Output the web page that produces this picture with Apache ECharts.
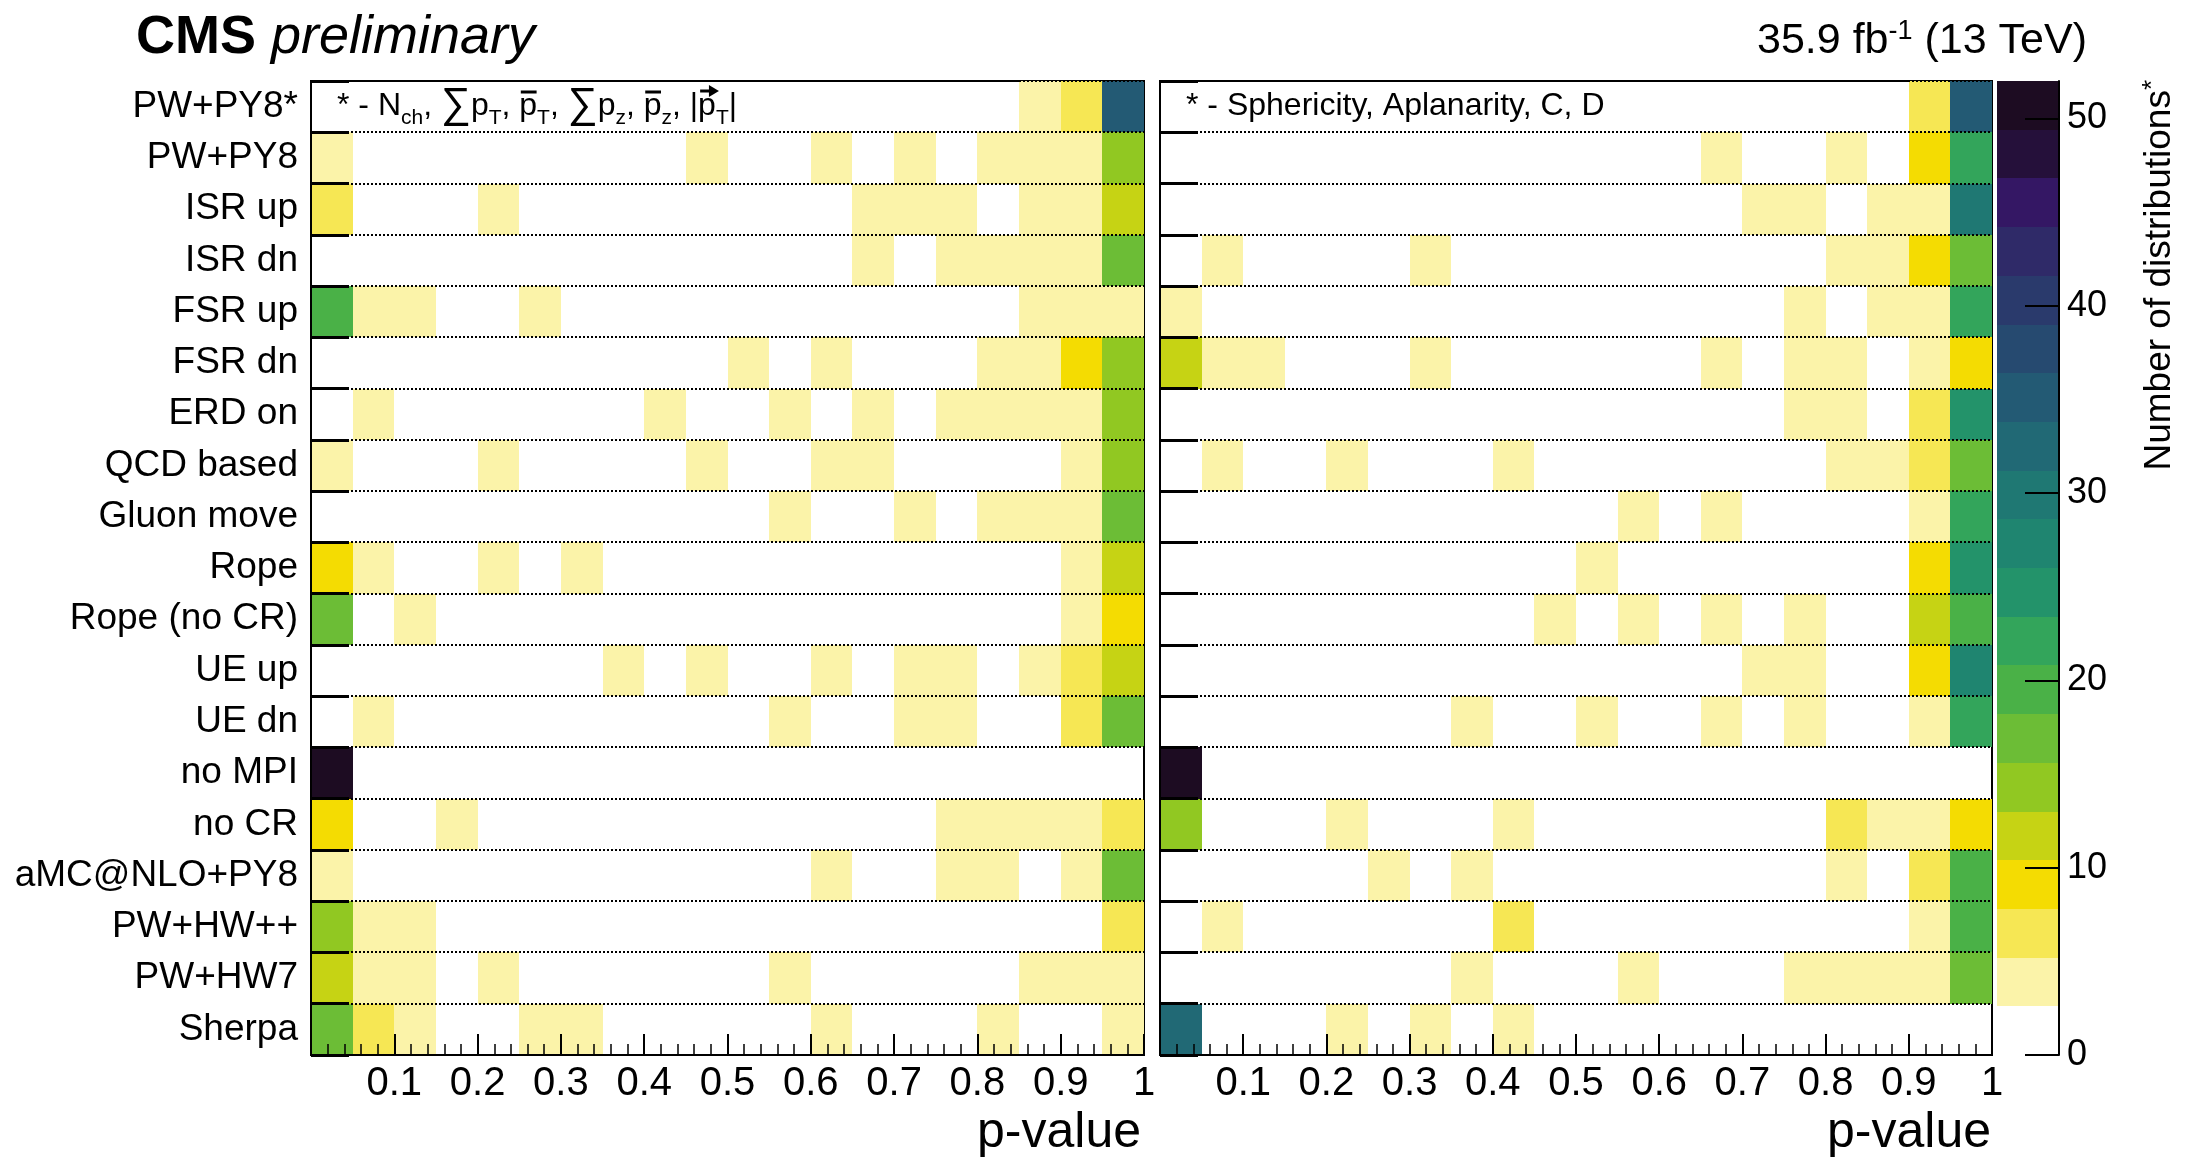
<!DOCTYPE html>
<html>
<head>
<meta charset="utf-8">
<script src="https://cdn.jsdelivr.net/npm/echarts@6/dist/echarts.min.js"></script>
<style>
  html, body { margin: 0; padding: 0; background: #fff; }
  #chart { width: 2193px; height: 1161px; }
</style>
</head>
<body>
<div id="chart"></div>
<script>
// Generator / tune labels, top row first
const models = [
  'PW+PY8*', 'PW+PY8', 'ISR up', 'ISR dn', 'FSR up', 'FSR dn', 'ERD on',
  'QCD based', 'Gluon move', 'Rope', 'Rope (no CR)', 'UE up', 'UE dn',
  'no MPI', 'no CR', 'aMC@NLO+PY8', 'PW+HW++', 'PW+HW7', 'Sherpa'
];

// Lower edges of the 20 p-value bins
const binLow = [0, 0.05, 0.1, 0.15, 0.2, 0.25, 0.3, 0.35, 0.4, 0.45,
                0.5, 0.55, 0.6, 0.65, 0.7, 0.75, 0.8, 0.85, 0.9, 0.95];
const binWidth = 0.05;

// Number of distributions per p-value bin: N_ch, sum pT, mean pT, sum pz, mean pz, |pT|
const leftCounts = [
  [0,0,0,0,0,0,0,0,0,0,0,0,0,0,0,0,0,4,6,35],
  [4,0,0,0,0,0,0,0,0,4,0,0,4,0,4,0,4,4,4,14],
  [6,0,0,0,4,0,0,0,0,0,0,0,0,4,4,4,0,4,4,12],
  [0,0,0,0,0,0,0,0,0,0,0,0,0,4,0,4,4,4,4,17],
  [19,4,4,0,0,4,0,0,0,0,0,0,0,0,0,0,0,4,4,4],
  [0,0,0,0,0,0,0,0,0,0,4,0,4,0,0,0,4,4,9,14],
  [0,4,0,0,0,0,0,0,4,0,0,4,0,4,0,4,4,4,4,14],
  [4,0,0,0,4,0,0,0,0,4,0,0,4,4,0,0,0,0,4,14],
  [0,0,0,0,0,0,0,0,0,0,0,4,0,0,4,0,4,4,4,17],
  [9,4,0,0,4,0,4,0,0,0,0,0,0,0,0,0,0,0,4,12],
  [17,0,4,0,0,0,0,0,0,0,0,0,0,0,0,0,0,0,4,9],
  [0,0,0,0,0,0,0,4,0,4,0,0,4,0,4,4,0,4,6,12],
  [0,4,0,0,0,0,0,0,0,0,0,4,0,0,4,4,0,0,6,17],
  [51,0,0,0,0,0,0,0,0,0,0,0,0,0,0,0,0,0,0,0],
  [9,0,0,4,0,0,0,0,0,0,0,0,0,0,0,4,4,4,4,6],
  [4,0,0,0,0,0,0,0,0,0,0,0,4,0,0,4,4,0,4,17],
  [14,4,4,0,0,0,0,0,0,0,0,0,0,0,0,0,0,0,0,6],
  [12,4,4,0,4,0,0,0,0,0,0,4,0,0,0,0,0,4,4,4],
  [17,6,4,0,0,4,4,0,0,0,0,0,4,0,0,0,4,0,0,4]
];

// Number of distributions per p-value bin: sphericity, aplanarity, C, D
const rightCounts = [
  [0,0,0,0,0,0,0,0,0,0,0,0,0,0,0,0,0,0,6,35],
  [0,0,0,0,0,0,0,0,0,0,0,0,0,4,0,0,4,0,9,22],
  [0,0,0,0,0,0,0,0,0,0,0,0,0,0,4,4,0,4,4,30],
  [0,4,0,0,0,0,4,0,0,0,0,0,0,0,0,0,4,4,9,17],
  [4,0,0,0,0,0,0,0,0,0,0,0,0,0,0,4,0,4,4,22],
  [12,4,4,0,0,0,4,0,0,0,0,0,0,4,0,4,4,0,4,9],
  [0,0,0,0,0,0,0,0,0,0,0,0,0,0,0,4,4,0,6,25],
  [0,4,0,0,4,0,0,0,4,0,0,0,0,0,0,0,4,4,6,17],
  [0,0,0,0,0,0,0,0,0,0,0,4,0,4,0,0,0,0,4,22],
  [0,0,0,0,0,0,0,0,0,0,4,0,0,0,0,0,0,0,9,25],
  [0,0,0,0,0,0,0,0,0,4,0,4,0,4,0,4,0,0,12,19],
  [0,0,0,0,0,0,0,0,0,0,0,0,0,0,4,4,0,0,9,28],
  [0,0,0,0,0,0,0,4,0,0,4,0,0,4,0,4,0,0,4,22],
  [51,0,0,0,0,0,0,0,0,0,0,0,0,0,0,0,0,0,0,0],
  [14,0,0,0,4,0,0,0,4,0,0,0,0,0,0,0,6,4,4,9],
  [0,0,0,0,0,4,0,4,0,0,0,0,0,0,0,0,4,0,6,19],
  [0,4,0,0,0,0,0,0,6,0,0,0,0,0,0,0,0,0,4,19],
  [0,0,0,0,0,0,0,4,0,0,0,4,0,0,0,4,4,4,4,17],
  [32,0,0,0,4,0,4,0,4,0,0,0,0,0,0,0,0,0,0,0]
];

// Colour contour edges (20 levels) and the palette for each level
const levels = [0, 2.6, 5.2, 7.8, 10.4, 13, 15.6, 18.2, 20.8, 23.4, 26,
                28.6, 31.2, 33.8, 36.4, 39, 41.6, 44.2, 46.8, 49.4, 52];
const levelColors = [
  '#ffffff', '#fbf3a9', '#f6e754', '#f4dc02', '#c6d314',
  '#91c822', '#6cbd36', '#4ab147', '#33a55b', '#23936a',
  '#1f8570', '#1f7873', '#216975', '#235a74', '#264a70',
  '#2a3a6c', '#2f2a68', '#341764', '#25103a', '#1d0c22'
];
const zTicks = [0, 10, 20, 30, 40, 50];
const xTickStep = 0.1;

const FONT = "'Liberation Sans', Arial, Helvetica, sans-serif";
const MIDDLE_SHIFT = 0.3465;   // baseline offset below the 'middle' anchor, in em

function cellData(counts) {
  const out = [];
  counts.forEach((row, r) => row.forEach((v, b) => {
    if (v > 0) out.push([binLow[b], r, v]);
  }));
  return out;
}

function levelColor(v) {
  for (let i = levels.length - 2; i >= 0; i--) {
    if (v >= levels[i]) return levelColors[i];
  }
  return levelColors[0];
}

function renderCell(params, api) {
  const lo = api.value(0), row = api.value(1), v = api.value(2);
  const c = api.coord([lo, row]);
  const s = api.size([binWidth, 1]);
  const x0 = Math.round(c[0]), x1 = Math.round(c[0] + s[0]);
  const y0 = Math.round(c[1] - s[1] / 2), y1 = Math.round(c[1] + s[1] / 2);
  return {
    type: 'rect',
    shape: { x: x0, y: y0, width: x1 - x0, height: y1 - y0 },
    style: { fill: levelColor(v) }
  };
}

function renderRowLine(params, api) {
  const row = api.value(1);
  const a = api.coord([0, row]), b = api.coord([1, row]);
  const h = api.size([0, 1])[1];
  const y = Math.round(a[1] - h / 2);
  return {
    type: 'line',
    shape: { x1: a[0], y1: y, x2: b[0], y2: y },
    style: { stroke: '#000', lineWidth: 2, lineDash: [2, 2] }
  };
}

function renderBand(params, api) {
  const lo = api.value(0), hi = api.value(1);
  const p1 = api.coord([0, hi]), p2 = api.coord([1, lo]);
  const y0 = Math.round(p1[1]), y1 = Math.round(p2[1]);
  return {
    type: 'rect',
    shape: { x: p1[0], y: y0, width: p2[0] - p1[0], height: y1 - y0 },
    style: { fill: levelColors[params.dataIndex] }
  };
}

const rowLineData = models.map((m, i) => [0, i]);
const bandData = levelColors.map((c, i) => [levels[i], levels[i + 1]]);

// Inline formula text (sub-scripts, over-bars, vector arrow) laid out piece by piece
const measureCtx = document.createElement('canvas').getContext('2d');
function formulaText(x0, baseline, pieces) {
  const els = [];
  let x = x0;
  pieces.forEach(p => {
    const fs = p.size;
    measureCtx.font = fs + "px 'Liberation Sans'";
    const w = measureCtx.measureText(p.text).width;
    const base = baseline + (p.dy || 0);
    els.push({
      type: 'text', x: x, y: base - MIDDLE_SHIFT * fs, silent: true, z: 10,
      style: { text: p.text, fontFamily: FONT, fontSize: fs, fill: '#000', align: 'left', verticalAlign: 'middle' }
    });
    if (p.mark === 'bar') {
      const yb = Math.round(base - 0.78 * fs);
      els.push({
        type: 'line', silent: true, z: 10,
        shape: { x1: x + 1.5, y1: yb, x2: x + w - 0.5, y2: yb },
        style: { stroke: '#000', lineWidth: 3 }
      });
    }
    if (p.mark === 'arrow') {
      const ya = Math.round(base - 0.82 * fs);
      const xl = x + 2, xr = x + w + 2;
      els.push({
        type: 'line', silent: true, z: 10,
        shape: { x1: xl, y1: ya, x2: xr - 6, y2: ya },
        style: { stroke: '#000', lineWidth: 3 }
      });
      els.push({
        type: 'polygon', silent: true, z: 10,
        shape: { points: [[xr - 9, ya - 6], [xr + 1, ya], [xr - 9, ya + 6]] },
        style: { fill: '#000' }
      });
    }
    x += w;
  });
  return els;
}

const M = 32, S = 21, SUB = 8, G = 42;
const leftNote = formulaText(337, 117, [
  { text: '* - N', size: M },
  { text: 'ch', size: S, dy: SUB },
  { text: ', ', size: M },
  { text: '\u2211', size: G, dy: 3 },
  { text: 'p', size: M },
  { text: 'T', size: S, dy: SUB },
  { text: ', ', size: M },
  { text: 'p', size: M, mark: 'bar' },
  { text: 'T', size: S, dy: SUB },
  { text: ', ', size: M },
  { text: '\u2211', size: G, dy: 3 },
  { text: 'p', size: M },
  { text: 'z', size: S, dy: SUB },
  { text: ', ', size: M },
  { text: 'p', size: M, mark: 'bar' },
  { text: 'z', size: S, dy: SUB },
  { text: ', ', size: M },
  { text: '|', size: M },
  { text: 'p', size: M, mark: 'arrow' },
  { text: 'T', size: S, dy: SUB },
  { text: '|', size: M }
]);

function pAxis(gridIndex) {
  return {
    gridIndex, type: 'value', min: 0, max: 1, interval: xTickStep, z: 5,
    axisLine: { show: true, onZero: false, lineStyle: { color: '#000', width: 2 } },
    axisTick: { show: true, inside: true, length: 21, lineStyle: { color: '#000', width: 2 } },
    minorTick: { show: true, splitNumber: 5, length: 11, lineStyle: { color: '#000', width: 1.5 } },
    splitLine: { show: false },
    minorSplitLine: { show: false },
    axisLabel: {
      color: '#000', fontSize: 40, fontFamily: FONT, margin: 9,
      showMinLabel: true, showMaxLabel: true,
      formatter: v => (v === 0 ? '' : String(Number(v.toFixed(2))))
    }
  };
}

function modelAxis(gridIndex, showLabels) {
  return {
    gridIndex, type: 'category', data: models, inverse: true, z: 5,
    axisLine: { show: true, onZero: false, lineStyle: { color: '#000', width: 2 } },
    axisTick: { show: true, inside: true, length: 38, interval: 0, lineStyle: { color: '#000', width: 3 } },
    axisLabel: { show: showLabels, interval: 0, color: '#000', fontSize: 37, fontFamily: FONT, margin: 13 },
    splitLine: { show: false }
  };
}

const chart = echarts.init(document.getElementById('chart'), null, { renderer: 'canvas' });

chart.setOption({
  animation: false,
  backgroundColor: '#fff',
  textStyle: { fontFamily: FONT },
  grid: [
    { left: 311, top: 81, width: 833, height: 974, show: true, borderColor: '#000', borderWidth: 2, backgroundColor: 'transparent', outerBoundsMode: 'none' },
    { left: 1160, top: 81, width: 832, height: 974, show: true, borderColor: '#000', borderWidth: 2, backgroundColor: 'transparent', outerBoundsMode: 'none' },
    { left: 1997, top: 81, width: 62, height: 974, show: false, outerBoundsMode: 'none' }
  ],
  xAxis: [
    pAxis(0),
    pAxis(1),
    { gridIndex: 2, type: 'value', min: 0, max: 1, show: false }
  ],
  yAxis: [
    modelAxis(0, true),
    modelAxis(1, false),
    {
      gridIndex: 2, type: 'value', min: 0, max: 52, interval: 10, position: 'right', z: 5,
      axisLine: { show: true, onZero: false, lineStyle: { color: '#000', width: 2 } },
      axisTick: { show: true, inside: true, length: 34, customValues: zTicks, lineStyle: { color: '#000', width: 2 } },
      axisLabel: { color: '#000', fontSize: 36, fontFamily: FONT, margin: 8, customValues: zTicks },
      splitLine: { show: false }
    }
  ],
  series: [
    { type: 'custom', name: 'left', xAxisIndex: 0, yAxisIndex: 0, z: 2, silent: true,
      data: cellData(leftCounts), renderItem: renderCell },
    { type: 'custom', name: 'right', xAxisIndex: 1, yAxisIndex: 1, z: 2, silent: true,
      data: cellData(rightCounts), renderItem: renderCell },
    { type: 'custom', name: 'leftRows', xAxisIndex: 0, yAxisIndex: 0, z: 3, silent: true,
      data: rowLineData, renderItem: renderRowLine },
    { type: 'custom', name: 'rightRows', xAxisIndex: 1, yAxisIndex: 1, z: 3, silent: true,
      data: rowLineData, renderItem: renderRowLine },
    { type: 'custom', name: 'palette', xAxisIndex: 2, yAxisIndex: 2, z: 2, silent: true,
      data: bandData, renderItem: renderBand }
  ],
  graphic: [
    {
      type: 'text', x: 136, y: 38, silent: true,
      style: {
        text: '{b|CMS}{i| preliminary}', verticalAlign: 'middle', align: 'left',
        rich: {
          b: { fontFamily: FONT, fontSize: 54, fontWeight: 'bold', fill: '#000', lineHeight: 54 },
          i: { fontFamily: FONT, fontSize: 54, fontStyle: 'italic', fill: '#000', lineHeight: 54 }
        }
      }
    },
    {
      type: 'text', x: 2087, y: 41, silent: true,
      style: {
        text: '{n|35.9 fb}{s|-1}{n| (13 TeV)}', verticalAlign: 'middle', align: 'right',
        rich: {
          n: { fontFamily: FONT, fontSize: 43, fill: '#000', lineHeight: 46, verticalAlign: 'middle' },
          s: { fontFamily: FONT, fontSize: 27, fill: '#000', lineHeight: 27, verticalAlign: 'top' }
        }
      }
    },
    ...leftNote,
    {
      type: 'text', x: 1186, y: 106, silent: true, z: 10,
      style: {
        text: '* - Sphericity, Aplanarity, C, D', verticalAlign: 'middle', align: 'left',
        fontFamily: FONT, fontSize: 32, fill: '#000'
      }
    },
    {
      type: 'text', x: 1141, y: 1133, silent: true,
      style: { text: 'p-value', align: 'right', verticalAlign: 'middle', fontFamily: FONT, fontSize: 50, fill: '#000' }
    },
    {
      type: 'text', x: 1991, y: 1133, silent: true,
      style: { text: 'p-value', align: 'right', verticalAlign: 'middle', fontFamily: FONT, fontSize: 50, fill: '#000' }
    },
    {
      type: 'text', x: 2160, y: 80, rotation: Math.PI / 2, silent: true,
      style: {
        text: '{n|Number of distributions}{s|*}', align: 'right', verticalAlign: 'middle',
        rich: {
          n: { fontFamily: FONT, fontSize: 37, fill: '#000', lineHeight: 40, verticalAlign: 'middle' },
          s: { fontFamily: FONT, fontSize: 26, fill: '#000', lineHeight: 26, verticalAlign: 'top' }
        }
      }
    }
  ]
});
</script>
</body>
</html>
